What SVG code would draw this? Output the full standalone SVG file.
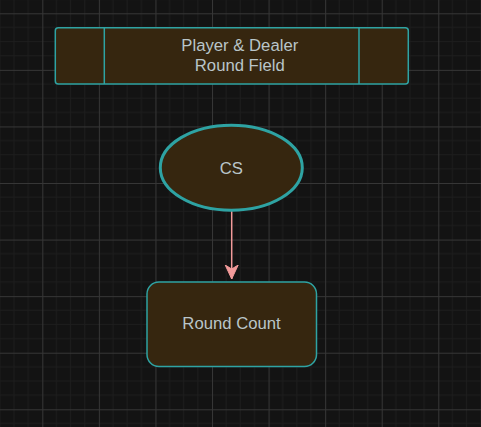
<svg xmlns="http://www.w3.org/2000/svg" width="481" height="427" viewBox="0 0 481 427">
  <defs>
    <pattern id="grid" patternUnits="userSpaceOnUse" x="42.3" y="13.3" width="56.57" height="56.57">
      <path d="M14.14 0V56.57M28.28 0V56.57M42.43 0V56.57M0 14.14H56.57M0 28.28H56.57M0 42.43H56.57" stroke="#1d1d1d" stroke-width="1" fill="none"/>
      <path d="M0.5 0V56.57M0 0.5H56.57" stroke="#363636" stroke-width="1" fill="none"/>
    </pattern>
    <marker id="arrow" markerUnits="userSpaceOnUse" markerWidth="16" markerHeight="16" refX="14" refY="7" orient="auto" viewBox="0 0 16 14">
      <path d="M0 0.5L14 7L0 13.5L4 7Z" fill="#f29a9a" stroke="#f29a9a" stroke-width="1"/>
    </marker>
    <style>
      .node { fill: #36260f; stroke: #2ea3a3; stroke-width: 1.5; }
      .lbl { font-family: "Liberation Sans", Arial, sans-serif; font-size: 16.7px; fill: #b9c5c9; text-anchor: middle; }
      .edge { stroke: #f29a9a; stroke-width: 1.5; fill: none; }
    </style>
  </defs>
  <rect width="481" height="427" fill="#131313"/>
  <rect width="481" height="427" fill="url(#grid)"/>

  <g id="connectors">
    <path class="edge" d="M231.7 211V279" marker-end="url(#arrow)"/>
  </g>

  <g id="node-field">
    <rect class="node" x="55.3" y="27.7" width="353" height="56.3" rx="3"/>
    <line class="node" x1="104.3" y1="27.7" x2="104.3" y2="84"/>
    <line class="node" x1="359" y1="27.7" x2="359" y2="84"/>
    <text class="lbl" x="239.8" y="50.8">Player &amp; Dealer</text>
    <text class="lbl" x="239.8" y="71">Round Field</text>
  </g>

  <g id="node-cs">
    <ellipse class="node" cx="231.3" cy="167.7" rx="71" ry="42.5" style="stroke-width:3"/>
    <text class="lbl" x="231.3" y="173.5">CS</text>
  </g>

  <g id="node-round-count">
    <rect class="node" x="147" y="282" width="169.5" height="84.5" rx="12"/>
    <text class="lbl" x="231.5" y="328.5">Round Count</text>
  </g>
</svg>
